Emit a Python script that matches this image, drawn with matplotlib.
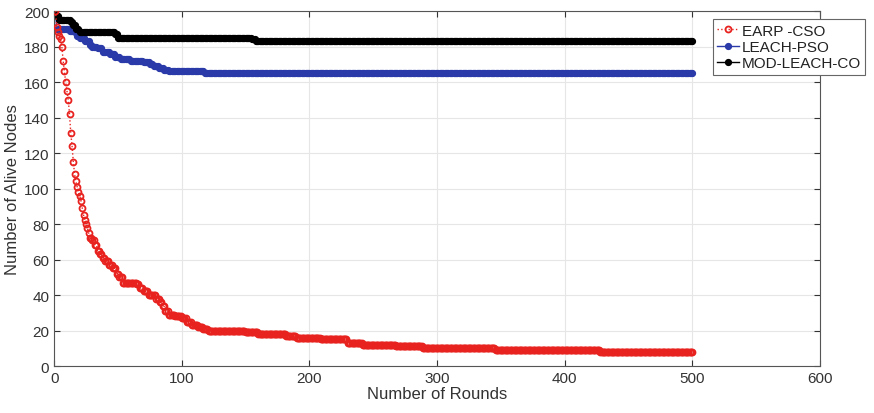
import numpy as np
import matplotlib
matplotlib.use("Agg")
import matplotlib.pyplot as plt

plt.rcParams['font.family'] = ['Liberation Sans', 'DejaVu Sans']

# Rounds simulated
rounds = np.arange(1, 501)

# Step breakpoints: (round where value changes, alive nodes)
earp_r = [1, 2, 3, 4, 5, 6, 7, 8, 9, 10, 11, 12, 13, 14, 15, 16, 17, 18, 19, 20,
          21, 22, 23, 24, 25, 26, 27, 28, 30, 32, 34, 36, 38, 40, 43, 46, 49, 51,
          54, 65, 67, 70, 74, 80, 83, 85, 87, 90, 95, 100, 104, 108, 113, 117,
          121, 150, 160, 182, 190, 209, 230, 242, 268, 289, 346, 428]
earp_v = [200, 191, 188, 186, 184, 180, 172, 166, 160, 155, 150, 142, 131, 124,
          115, 108, 104, 101, 98, 96, 93, 89, 85, 82, 80, 78, 75, 72, 71, 68, 65,
          63, 61, 59, 57, 55, 52, 50, 47, 46, 44, 42, 40, 38, 36, 34, 31, 29, 28,
          27, 25, 23, 22, 21, 20, 19, 18, 17, 16, 15, 13, 12, 11, 10, 9, 8]

pso_r = [1, 2, 12, 16, 18, 20, 24, 28, 30, 34, 38, 44, 48, 52, 60, 70, 75, 78,
         82, 86, 90, 118]
pso_v = [200, 190, 189, 188, 186, 185, 183, 181, 180, 179, 177, 176, 174, 173,
         172, 171, 170, 169, 168, 167, 166, 165]

mod_r = [1, 2, 4, 13, 15, 17, 20, 48, 50, 155, 158]
mod_v = [200, 197, 195, 194, 192, 190, 188, 187, 185, 184, 183]

labels = ["EARP -CSO", "LEACH-PSO", "MOD-LEACH-CO"]


def hold(br, bv):
    # value stays constant until the next change point
    idx = np.searchsorted(br, rounds, side="right") - 1
    return np.array(bv)[idx]


earp = hold(earp_r, earp_v)
pso = hold(pso_r, pso_v)
mod = hold(mod_r, mod_v)

fig = plt.figure(figsize=(8.74, 4.14), dpi=100)
ax = fig.add_axes([0.062, 0.1135, 0.876, 0.8575])

ax.plot(rounds, earp, color="#e8231f", lw=1, ls=":", marker="o", ms=4.3,
        mfc="none", mec="#e8231f", mew=1.3, label=labels[0], zorder=3)
ax.plot(rounds, pso, color="#2a3aa8", lw=1, marker="o", ms=4.2,
        mfc="#2a3aa8", mec="#2a3aa8", label=labels[1], zorder=2)
ax.plot(rounds, mod, color="black", lw=1, marker="o", ms=4.2,
        mfc="black", mec="black", label=labels[2], zorder=2)

ax.set_xlim(0, 600)
ax.set_ylim(0, 200)
ax.set_xticks(np.arange(0, 601, 100))
ax.set_yticks(np.arange(0, 201, 20))
ax.grid(True, color="#e6e6e6", lw=0.8)
ax.set_axisbelow(True)
for s in ax.spines.values():
    s.set_color("#555555")
    s.set_linewidth(0.8)
ax.tick_params(direction="in", length=4, colors="#333333", labelsize=11,
               top=True, right=True, labeltop=False, labelright=False)
ax.set_xlabel("Number of Rounds", fontsize=12, color="#333333", labelpad=1)
ax.set_ylabel("Number of Alive Nodes", fontsize=12, color="#333333", labelpad=3)

leg = ax.legend(loc="upper left", bbox_to_anchor=(0.860, 0.977), fontsize=11,
                frameon=True, fancybox=False, edgecolor="#666666",
                handlelength=1.4, handletextpad=0.2, borderpad=0.3,
                labelspacing=0.15, borderaxespad=0, framealpha=1)
leg.get_frame().set_linewidth(0.8)
for t in leg.get_texts():
    t.set_color("#222222")

fig.savefig("out.png", dpi=100)
